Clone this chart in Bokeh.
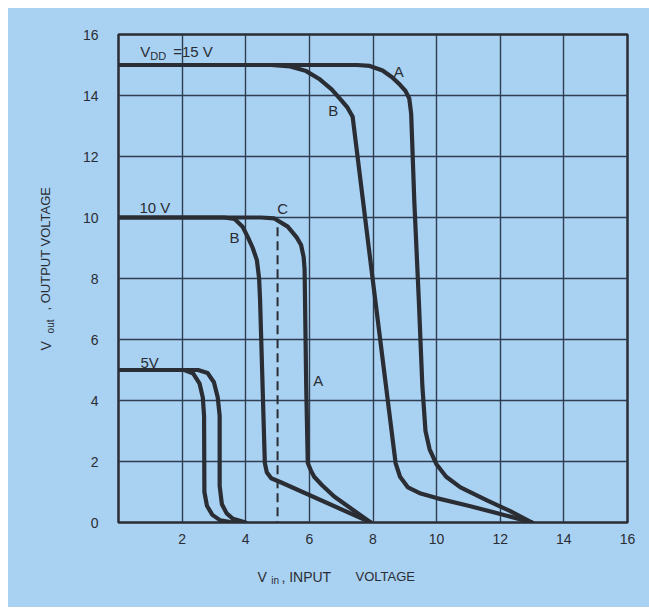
import math
from bokeh.plotting import figure
from bokeh.models import Label, FixedTicker, Range1d, Spacer
from bokeh.layouts import row, column
from bokeh.embed import file_html
from bokeh.resources import INLINE

# ---- data ----
x_ticks = [2, 4, 6, 8, 10, 12, 14, 16]
y_ticks = [0, 2, 4, 6, 8, 10, 12, 14, 16]

# VDD = 15 V
a15_x = [0, 7.5, 7.9, 8.3, 8.6, 8.85, 9.02, 9.14, 9.2, 9.3, 9.44, 9.55, 9.65, 9.78, 10.0, 10.3, 10.75, 11.6, 12.3, 13.0]
a15_y = [15, 15, 14.97, 14.82, 14.6, 14.35, 14.15, 13.9, 13.4, 10.5, 7.3, 4.5, 3.0, 2.4, 1.9, 1.5, 1.15, 0.72, 0.38, 0]
b15_x = [0, 4.8, 5.4, 5.9, 6.3, 6.7, 7.0, 7.2, 7.36, 8.07, 8.71, 8.85, 9.1, 9.5, 10.0, 11.0, 12.0, 13.0]
b15_y = [15, 15, 14.95, 14.8, 14.55, 14.2, 13.85, 13.6, 13.3, 7.3, 1.95, 1.5, 1.15, 0.95, 0.8, 0.55, 0.28, 0]

# VDD = 10 V
a10_x = [0, 4.48, 4.9, 5.32, 5.6, 5.74, 5.82, 5.85, 5.9, 5.95, 6.05, 6.15, 6.4, 6.78, 7.93]
a10_y = [10, 10, 9.97, 9.7, 9.35, 9.1, 8.7, 8.3, 4.5, 1.95, 1.7, 1.5, 1.22, 0.85, 0]
b10_x = [0, 3.32, 3.65, 3.9, 4.07, 4.22, 4.35, 4.42, 4.45, 4.6, 4.66, 4.8, 5.1, 7.93]
b10_y = [10, 10, 9.95, 9.7, 9.35, 9.0, 8.6, 8.0, 7.3, 1.95, 1.65, 1.45, 1.32, 0]
c10_x = [5.0, 5.0]
c10_y = [9.68, 0]

# VDD = 5 V
a5_x = [0, 2.5, 2.8, 3.0, 3.12, 3.18, 3.18, 3.25, 3.4, 3.6, 4.0]
a5_y = [5, 5, 4.9, 4.6, 4.1, 3.5, 1.2, 0.6, 0.3, 0.12, 0]
b5_x = [0, 2.07, 2.35, 2.55, 2.65, 2.69, 2.7, 2.78, 2.95, 3.2, 3.6]
b5_y = [5, 5, 4.88, 4.55, 4.1, 3.5, 1.0, 0.55, 0.25, 0.07, 0]

BG = "#a9d1f2"
INK = "#2a2d33"
GRID = "#2e3e50"
FONT = "Liberation Sans"

YLAB_W = 62
MAIN_W = 579
MAIN_H = 546
XLAB_H = 53
B_LEFT, B_RIGHT, B_TOP, B_BOTTOM = 48, 22, 26, 32

x_range = Range1d(0, 16)
y_range = Range1d(0, 16)

p = figure(width=MAIN_W, height=MAIN_H, x_range=x_range, y_range=y_range,
           output_backend="svg", toolbar_location=None,
           min_border_left=B_LEFT, min_border_right=B_RIGHT,
           min_border_top=B_TOP, min_border_bottom=B_BOTTOM)
p.background_fill_color = BG
p.border_fill_color = BG
p.outline_line_color = INK
p.outline_line_width = 2.5

p.xaxis.ticker = FixedTicker(ticks=x_ticks)
p.yaxis.ticker = FixedTicker(ticks=y_ticks)
for ax in (p.xaxis, p.yaxis):
    ax.axis_line_color = None
    ax.major_tick_line_color = None
    ax.minor_tick_line_color = None
    ax.major_label_text_font = FONT
    ax.major_label_text_font_size = "14px"
    ax.major_label_text_color = INK
p.xaxis.major_label_standoff = 5
p.yaxis.major_label_standoff = 14

for g in (p.xgrid, p.ygrid):
    g.grid_line_color = GRID
    g.grid_line_width = 1.4
    g.grid_line_alpha = 1.0

for xs, ys in [(a15_x, a15_y), (b15_x, b15_y), (a10_x, a10_y),
               (b10_x, b10_y), (a5_x, a5_y), (b5_x, b5_y)]:
    p.line(xs, ys, line_width=4.2, line_color=INK, line_join="round", line_cap="round")
p.line(c10_x, c10_y, line_width=2, line_color=INK, line_dash="9 5")


def lab(fig, x, y, t, size="15px", angle=0.0, align="left", base="middle"):
    fig.add_layout(Label(x=x, y=y, text=t, text_font=FONT, text_font_size=size,
                         text_color=INK, angle=angle, text_align=align,
                         text_baseline=base))

# curve annotations
lab(p, 0.68, 15.45, "V")
lab(p, 1.0, 15.3, "DD", size="11px")
lab(p, 1.72, 15.45, "=15 V")
lab(p, 0.66, 10.32, "10 V")
lab(p, 0.69, 5.25, "5V")
lab(p, 8.81, 14.78, "A", align="center")
lab(p, 6.75, 13.52, "B", align="center")
lab(p, 3.65, 9.35, "B", align="center")
lab(p, 5.16, 10.3, "C", align="center")
lab(p, 6.28, 4.66, "A", align="center")


def blank(fig):
    fig.background_fill_color = None
    fig.border_fill_color = None
    fig.outline_line_color = None
    fig.xgrid.visible = False
    fig.ygrid.visible = False


# y-axis title panel (shares the chart's y scale)
py = figure(width=YLAB_W, height=MAIN_H, x_range=Range1d(0, YLAB_W), y_range=y_range,
            output_backend="svg", toolbar_location=None,
            x_axis_location=None, y_axis_location=None,
            min_border_left=0, min_border_right=0,
            min_border_top=B_TOP, min_border_bottom=B_BOTTOM)
blank(py)
R = math.pi / 2
lab(py, 37, 5.64, "V", size="14px", angle=R)
lab(py, 42, 6.2, "out", size="10px", angle=R)
lab(py, 37, 6.95, ",  OUTPUT VOLTAGE", size="13px", angle=R)

# x-axis title panel (shares the chart's x scale)
px = figure(width=YLAB_W + MAIN_W, height=XLAB_H, x_range=x_range, y_range=Range1d(0, XLAB_H),
            output_backend="svg", toolbar_location=None,
            x_axis_location=None, y_axis_location=None,
            min_border_left=YLAB_W + B_LEFT, min_border_right=B_RIGHT,
            min_border_top=0, min_border_bottom=0)
blank(px)
lab(px, 4.37, 31, "V", size="14px")
lab(px, 4.8, 27, "in", size="10px")
lab(px, 5.12, 31, ", INPUT", size="14px")
lab(px, 7.45, 31, "VOLTAGE", size="13px")

blue = {"background-color": BG}
inner = column(row(py, p, styles=blue), px, styles=blue)
page = column(Spacer(width=8, height=8),
              row(Spacer(width=8, height=MAIN_H + XLAB_H), inner))

open("out.html", "w").write(file_html(page, INLINE))
